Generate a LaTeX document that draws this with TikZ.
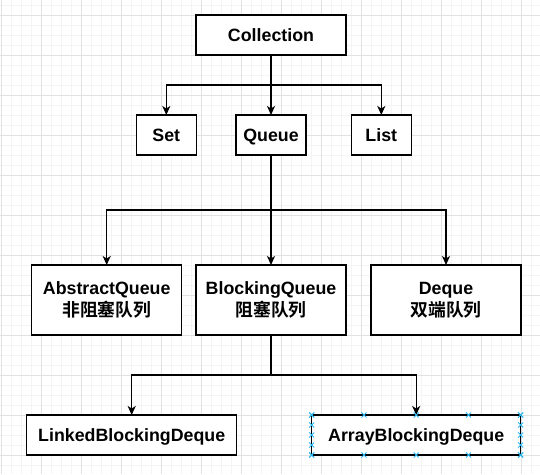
\documentclass[tikz,border=0pt]{standalone}
\usepackage{fontspec}
\setmainfont{Liberation Sans}
\newfontfamily\cjk{Noto Sans CJK SC}[BoldFont={Noto Sans CJK SC Bold}]
\usetikzlibrary{arrows.meta,calc}
\definecolor{gridmajor}{HTML}{E2E2E2}
\definecolor{gridminor}{HTML}{F4F4F4}
\definecolor{selblue}{HTML}{29B6F2}
\tikzset{
  box/.style={draw=black,line width=1.4pt,fill=white,inner sep=0pt,outer sep=0pt,
    align=center,font=\fontsize{17.8}{22}\selectfont\bfseries},
  onebox/.style={box,minimum height=40pt,text height=12.7pt,text depth=0pt},
  twobox/.style={box,minimum width=150pt,minimum height=70pt},
  arr/.style={line width=1.4pt,-{Stealth[length=9pt,width=8pt,inset=2.5pt]}},
  handle/.style={selblue,line width=0.8pt}
}
\newcommand{\hmark}[1]{\draw[handle] ($(#1)+(-2.5,-2.5)$) -- ++(5,5) ($(#1)+(-2.5,2.5)$) -- ++(5,-5);}
\begin{document}
\begin{tikzpicture}[x=1pt,y=-1pt]
\useasboundingbox (0,0) rectangle (540,474);
\fill[white] (0,0) rectangle (540,474);
% grid
\foreach \x in {1.7,11.7,...,540} \draw[gridminor,line width=0.8pt] (\x,0) -- (\x,474);
\foreach \y in {5,15,...,474} \draw[gridminor,line width=0.8pt] (0,\y) -- (540,\y);
\foreach \x in {1.7,41.7,...,540} \draw[gridmajor,line width=0.8pt] (\x,0) -- (\x,474);
\foreach \y in {15,55,...,474} \draw[gridmajor,line width=0.8pt] (0,\y) -- (540,\y);
% nodes
\node[onebox,minimum width=150pt] (coll) at (271,35) {Collection};
\node[onebox,minimum width=60pt] (set) at (166.3,135) {Set};
\node[onebox,minimum width=70pt] (queue) at (271,135) {Queue};
\node[onebox,minimum width=60pt] (list) at (381.3,135) {List};
\node[twobox] (absq) at (106.7,300) {AbstractQueue\\{\cjk\bfseries 非阻塞队列}};
\node[twobox] (blkq) at (271,300) {BlockingQueue\\{\cjk\bfseries 阻塞队列}};
\node[twobox] (deque) at (446,300) {Deque\\{\cjk\bfseries 双端队列}};
\node[onebox,minimum width=210pt] (lbd) at (131.7,435) {LinkedBlockingDeque};
\node[onebox,minimum width=209pt] (abd) at (416.2,435) {ArrayBlockingDeque};
% joints
\coordinate (j1) at (271,85);
\coordinate (j2) at (271,210);
\coordinate (j3) at (271,375);
% connectors
\draw[arr] (coll.south) -- (queue.north);
\draw[arr] (j1) -| (set.north);
\draw[arr] (j1) -| (list.north);
\draw[arr] (queue.south) -- (blkq.north);
\draw[arr] (j2) -| (absq.north);
\draw[arr] (j2) -| (deque.north);
\draw[line width=1.4pt] (blkq.south) -- (j3);
\draw[arr] (j3) -| (lbd.north);
\draw[arr] (j3) -| (abd.north);
% selection handles
\foreach \t in {0,0.25,0.5,0.75,1} {
  \hmark{$(abd.north west)!\t!(abd.north east)$}
  \hmark{$(abd.south west)!\t!(abd.south east)$}
  \hmark{$(abd.north west)!\t!(abd.south west)$}
  \hmark{$(abd.north east)!\t!(abd.south east)$}
}
\end{tikzpicture}
\end{document}
